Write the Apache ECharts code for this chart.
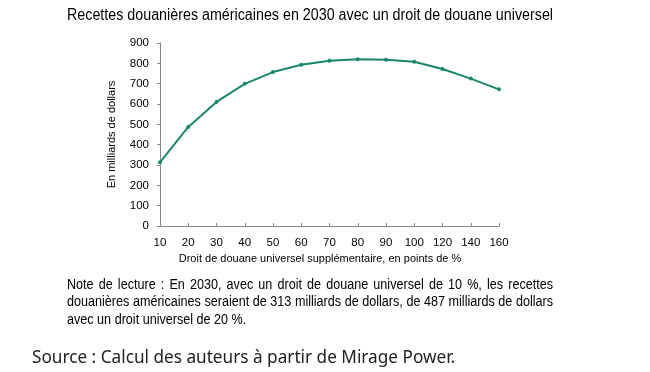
<!DOCTYPE html>
<html>
<head>
<meta charset="utf-8">
<script src="https://cdn.jsdelivr.net/npm/echarts@6/dist/echarts.min.js"></script>
<style>
html,body{margin:0;padding:0;background:#fff;}
#chart{width:650px;height:372px;}
</style>
</head>
<body>
<div id="chart"></div>
<script>
var categories = ['10','20','30','40','50','60','70','80','90','100','120','140','160'];
var revenues = [313, 487, 610, 699, 757, 793, 813, 820, 818, 808, 772, 725, 672];
var yTicks = [0, 100, 200, 300, 400, 500, 600, 700, 800, 900];

var titleText = 'Recettes douanières américaines en 2030 avec un droit de douane universel';
var xAxisTitle = 'Droit de douane universel supplémentaire, en points de %';
var yAxisTitle = 'En milliards de dollars';
var noteLines = [
  'Note de lecture : En 2030, avec un droit de douane universel de 10 %, les recettes',
  'douanières américaines seraient de 313 milliards de dollars, de 487 milliards de dollars',
  'avec un droit universel de 20 %.'
];
var sourceText = 'Source : Calcul des auteurs à partir de Mirage Power.';

var sans = '"Liberation Sans", Arial, sans-serif';

var measureCtx = document.createElement('canvas').getContext('2d');
function textWidth(t, font) { measureCtx.font = font; return measureCtx.measureText(t).width; }

var chart = echarts.init(document.getElementById('chart'), null, {renderer: 'canvas'});

var titleFont = '16px ' + sans;
var titleScale = 486 / textWidth(titleText, titleFont);
var graphics = [
  {type: 'text', x: 67, y: 16, scaleX: titleScale, style: {text: titleText, font: titleFont, fill: '#000', verticalAlign: 'middle'}},
  {type: 'text', x: 320, y: 259, style: {text: xAxisTitle, font: '11px ' + sans, fill: '#000', align: 'center', verticalAlign: 'middle'}},
  {type: 'text', x: 32, y: 358, style: {text: sourceText, font: '17.2px "Noto Sans", "Open Sans", sans-serif', fill: '#222', verticalAlign: 'middle'}}
];

// Note: justified paragraph (lines 1-2 justified to the block width, last line left aligned)
var noteFont = '14px ' + sans;
var noteScale = 0.9;
var noteLeft = 67, noteWidth = 486;
noteLines.forEach(function (line, i) {
  var y = 285 + i * 17.5;
  var words = line.split(' ');
  var last = i === noteLines.length - 1;
  var widths = words.map(function (w) { return textWidth(w, noteFont) * noteScale; });
  var total = widths.reduce(function (a, b) { return a + b; }, 0);
  var gap = last ? textWidth(' ', noteFont) * noteScale : (noteWidth - total) / (words.length - 1);
  var x = noteLeft;
  words.forEach(function (w, j) {
    graphics.push({type: 'text', x: x, y: y, scaleX: noteScale,
      style: {text: w, font: noteFont, fill: '#000', verticalAlign: 'middle'}});
    x += widths[j] + gap;
  });
});

chart.setOption({
  animation: false,
  backgroundColor: '#fff',
  grid: {left: 160, right: 151, top: 43, bottom: 146, containLabel: false},
  xAxis: {
    type: 'category',
    data: categories,
    boundaryGap: false,
    axisLine: {lineStyle: {color: '#868686', width: 1}},
    axisTick: {show: true, inside: true, length: 3, lineStyle: {color: '#868686'}},
    axisLabel: {color: '#000', fontSize: 11.5, fontFamily: sans, margin: 11}
  },
  yAxis: {
    type: 'value',
    min: 0,
    max: 900,
    interval: 100,
    name: yAxisTitle,
    nameLocation: 'middle',
    nameGap: 43,
    nameTextStyle: {color: '#000', fontSize: 11, fontFamily: sans},
    axisLine: {show: true, lineStyle: {color: '#868686', width: 1}},
    axisTick: {show: true, inside: false, length: 3, lineStyle: {color: '#868686'}},
    axisLabel: {color: '#000', fontSize: 11.5, fontFamily: sans, margin: 11,
      formatter: function (v) { return yTicks.indexOf(v) >= 0 ? String(v) : ''; }},
    splitLine: {show: false}
  },
  series: [{
    type: 'line',
    data: revenues,
    symbol: 'circle',
    symbolSize: 4,
    smooth: false,
    lineStyle: {color: '#18876c', width: 2},
    itemStyle: {color: '#18876c'}
  }],
  graphic: graphics
});
</script>
</body>
</html>
